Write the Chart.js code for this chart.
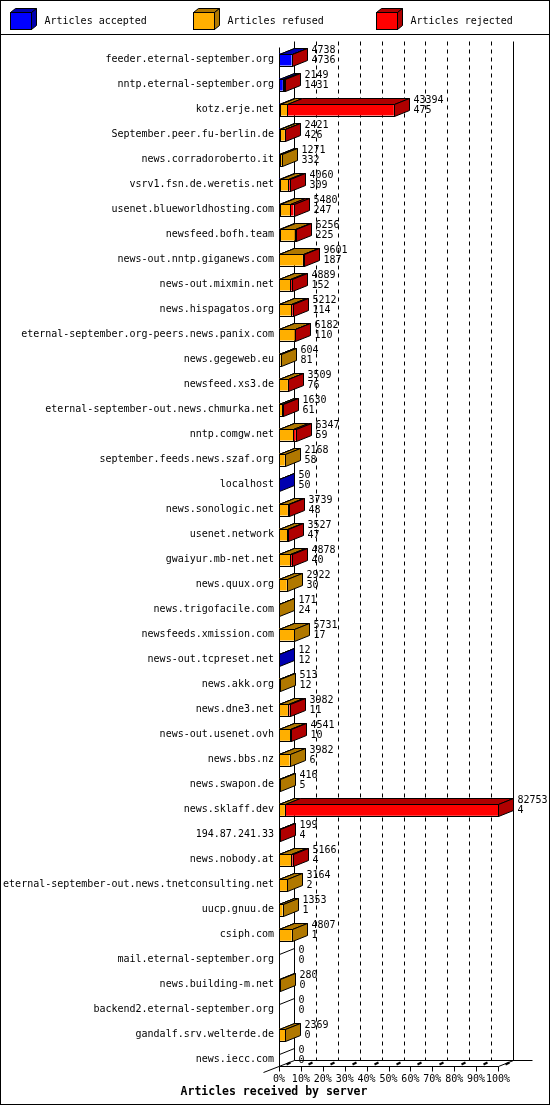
<!DOCTYPE html>
<html>
<head>
<meta charset="utf-8">
<title>Articles received by server</title>
<script src="https://cdn.jsdelivr.net/npm/chart.js@4.4.1/dist/chart.umd.min.js"></script>
<style>
  html, body { margin: 0; padding: 0; background: #fff; }
  canvas { display: block; }
</style>
</head>
<body>
<canvas id="myChart" width="550" height="1105"></canvas>
<script>
var servers = ['feeder.eternal-september.org', 'nntp.eternal-september.org', 'kotz.erje.net',
  'September.peer.fu-berlin.de', 'news.corradoroberto.it', 'vsrv1.fsn.de.weretis.net',
  'usenet.blueworldhosting.com', 'newsfeed.bofh.team', 'news-out.nntp.giganews.com',
  'news-out.mixmin.net', 'news.hispagatos.org', 'eternal-september.org-peers.news.panix.com',
  'news.gegeweb.eu', 'newsfeed.xs3.de', 'eternal-september-out.news.chmurka.net',
  'nntp.comgw.net', 'september.feeds.news.szaf.org', 'localhost', 'news.sonologic.net',
  'usenet.network', 'gwaiyur.mb-net.net', 'news.quux.org', 'news.trigofacile.com',
  'newsfeeds.xmission.com', 'news-out.tcpreset.net', 'news.akk.org', 'news.dne3.net',
  'news-out.usenet.ovh', 'news.bbs.nz', 'news.swapon.de', 'news.sklaff.dev', '194.87.241.33',
  'news.nobody.at', 'eternal-september-out.news.tnetconsulting.net', 'uucp.gnuu.de',
  'csiph.com', 'mail.eternal-september.org', 'news.building-m.net',
  'backend2.eternal-september.org', 'gandalf.srv.welterde.de', 'news.iecc.com'];

var accepted = [4736, 1431, 475, 426, 332, 309, 247, 225, 187, 152, 114, 110, 81, 76, 61, 59, 58, 50,
  48, 47, 40, 30, 24, 17, 12, 12, 11, 10, 6, 5, 4, 4, 4, 2, 1, 1, 0, 0, 0, 0, 0];
var refused = [0, 300, 2600, 1750, 939, 3151, 4033, 5731, 8774, 4137, 4448, 5822, 523, 3233, 1119, 5338, 2110, 0,
  3241, 3030, 4238, 2892, 147, 5714, 0, 501, 3321, 4281, 3976, 411, 2200, 0, 4512, 3162, 1352, 4806, 0, 280, 0, 2369, 0];
var rejected = [2, 418, 40319, 245, 0, 600, 1200, 300, 640, 600, 650, 250, 0, 200, 450, 950, 0, 0,
  450, 450, 600, 0, 0, 0, 0, 0, 650, 250, 0, 0, 80549, 195, 650, 0, 0, 0, 0, 0, 0, 0, 0];

var tickLabels = ['0%', '10%', '20%', '30%', '40%', '50%', '60%', '70%', '80%', '90%', '100%'];
var seriesNames = ['Articles accepted', 'Articles refused', 'Articles rejected'];
var axisTitle = 'Articles received by server';
var frontColors = ['#0000FF', '#FFAF00', '#FF0000'];
var darkColors = ['#0000B0', '#B07800', '#B00000'];

var series = [accepted, refused, rejected];
var totals = servers.map(function(s, i) { return accepted[i] + refused[i] + rejected[i]; });
var maxTotal = Math.max.apply(null, totals);

var MONO = '"DejaVu Sans Mono", "Liberation Mono", monospace';
var DX = 15, DY = 6;

function px(v) { return Math.round(v) + 0.5; }
function seg(ctx, ax, ay, bx, by) {
  ctx.beginPath(); ctx.moveTo(ax, ay); ctx.lineTo(bx, by); ctx.stroke();
}
function poly(ctx, pts, fill) {
  ctx.beginPath();
  ctx.moveTo(pts[0], pts[1]);
  for (var k = 2; k < pts.length; k += 2) ctx.lineTo(pts[k], pts[k + 1]);
  ctx.closePath();
  ctx.fillStyle = fill; ctx.fill();
  ctx.stroke();
}

// walls, grid, floor and the 3d faces of the bars
var threeD = {
  id: 'threeD',
  beforeDatasetsDraw: function(chart) {
    var ctx = chart.ctx, xs = chart.scales.x, ys = chart.scales.y, area = chart.chartArea;
    var x0 = px(xs.getPixelForValue(0)), x1 = px(xs.getPixelForValue(100));
    var floorY = px(ys.getPixelForValue(servers.length - 1) + 6);
    var topY = px(area.top - DY);
    ctx.save();
    ctx.strokeStyle = '#000';
    ctx.lineWidth = 1;
    ctx.setLineDash([4, 4]);
    for (var v = 10; v < 100; v += 10) {
      var gx = px(xs.getPixelForValue(v)) + DX;
      seg(ctx, gx, topY, gx, floorY - DY);
    }
    ctx.setLineDash([]);
    seg(ctx, x0, px(area.top), x0, floorY);
    seg(ctx, x0 + DX, topY, x0 + DX, floorY - DY);
    seg(ctx, x1 + DX, topY, x1 + DX, floorY - DY);
    // floor
    seg(ctx, x0, floorY, x1, floorY);
    seg(ctx, x1, floorY, x1 + DX, floorY - DY);
    seg(ctx, x0 + DX, floorY - DY, x1 + DX + 19, floorY - DY);
    seg(ctx, x0 - 16, floorY + 6, x0 + DX, floorY - DY);
    for (var t = 0; t <= 100; t += 10) {
      var tx = px(xs.getPixelForValue(t));
      seg(ctx, tx, floorY, tx, floorY + 5);
      ctx.lineWidth = 2;
      seg(ctx, tx + 7, floorY - 2, tx + 11, floorY - 4);
      ctx.lineWidth = 1;
    }
    // row separators on the left wall
    for (var i = 0; i < servers.length; i++) {
      var c = ys.getPixelForValue(i);
      seg(ctx, x0, px(c - 6), x0 + DX, px(c - 6 - DY));
    }
    ctx.restore();
  },
  afterDatasetsDraw: function(chart) {
    var ctx = chart.ctx, xs = chart.scales.x, ys = chart.scales.y;
    var x0 = px(xs.getPixelForValue(0));
    ctx.save();
    ctx.strokeStyle = '#000';
    ctx.lineWidth = 1;
    for (var i = 0; i < servers.length; i++) {
      var c = ys.getPixelForValue(i);
      var top = px(c - 6), bottom = px(c + 6);
      var endX = x0, last = -1;
      for (var d = 0; d < series.length; d++) {
        if (!series[d][i]) continue;
        var el = chart.getDatasetMeta(d).data[i];
        var l = px(Math.min(el.base, el.x)), r = px(Math.max(el.base, el.x));
        poly(ctx, [l, top, r, top, r + DX, top - DY, l + DX, top - DY], darkColors[d]);
        ctx.strokeRect(l, top, r - l, bottom - top);
        endX = r; last = d;
      }
      if (last >= 0) {
        poly(ctx, [endX, top, endX + DX, top - DY, endX + DX, bottom - DY, endX, bottom], darkColors[last]);
      }
      ctx.fillStyle = '#000';
      ctx.font = '10px ' + MONO;
      ctx.textAlign = 'left';
      ctx.textBaseline = 'middle';
      ctx.fillText(String(totals[i]), endX + DX + 4, c - 9);
      ctx.fillText(String(accepted[i]), endX + DX + 4, c + 1);
    }
    ctx.restore();
  },
  afterDraw: function(chart) {
    var ctx = chart.ctx;
    ctx.save();
    ctx.strokeStyle = '#000';
    ctx.lineWidth = 1;
    // legend
    for (var k = 0; k < seriesNames.length; k++) {
      var lx = 10.5 + 183 * k, ly = 12.5;
      poly(ctx, [lx, ly, lx + 21, ly, lx + 26, ly - 4, lx + 5, ly - 4], darkColors[k]);
      poly(ctx, [lx + 21, ly, lx + 26, ly - 4, lx + 26, ly + 13, lx + 21, ly + 17], darkColors[k]);
      ctx.fillStyle = frontColors[k];
      ctx.fillRect(lx, ly, 21, 17);
      ctx.strokeRect(lx, ly, 21, 17);
      ctx.fillStyle = '#000';
      ctx.font = '10px ' + MONO;
      ctx.textAlign = 'left';
      ctx.textBaseline = 'middle';
      ctx.fillText(chart.data.datasets[k].label, lx + 34, 21);
    }
    seg(ctx, 0, 34.5, 550, 34.5);
    // axis title, centred on the whole picture
    ctx.fillStyle = '#000';
    ctx.font = 'bold 11.5px ' + MONO;
    ctx.textAlign = 'center';
    ctx.textBaseline = 'middle';
    ctx.fillText(axisTitle, 274, 1092);
    ctx.strokeRect(0.5, 0.5, 549, 1104);
    ctx.restore();
  }
};

var ctx = document.getElementById('myChart').getContext('2d');
var chart = new Chart(ctx, {
  type: 'bar',
  data: {
    labels: servers,
    datasets: series.map(function(vals, k) {
      return {
        label: seriesNames[k],
        data: vals.map(function(v) { return v / maxTotal * 100; }),
        backgroundColor: frontColors[k],
        borderWidth: 0,
        barThickness: 12,
        inflateAmount: 0
      };
    })
  },
  options: {
    indexAxis: 'y',
    responsive: false,
    animation: false,
    devicePixelRatio: 1,
    layout: { padding: { left: 1, right: 52, top: 47, bottom: 21.8 } },
    scales: {
      x: {
        type: 'linear', stacked: true, min: 0, max: 100,
        grid: { display: false, drawTicks: false },
        border: { display: false },
        ticks: {
          stepSize: 10, autoSkip: false, maxRotation: 0, minRotation: 0, padding: 1,
          color: '#000', font: { family: MONO, size: 10 },
          callback: function(v, idx) { return tickLabels[idx]; }
        },
        afterFit: function(s) { s.height = 11; }
      },
      y: {
        type: 'category', stacked: true,
        grid: { display: false, drawTicks: false },
        border: { display: false },
        ticks: { autoSkip: false, padding: 5, color: '#000', font: { family: MONO, size: 10 } },
        afterFit: function(s) { s.width = 278; }
      }
    },
    plugins: {
      legend: { display: false },
      tooltip: { enabled: false }
    }
  },
  plugins: [threeD]
});
</script>
</body>
</html>
